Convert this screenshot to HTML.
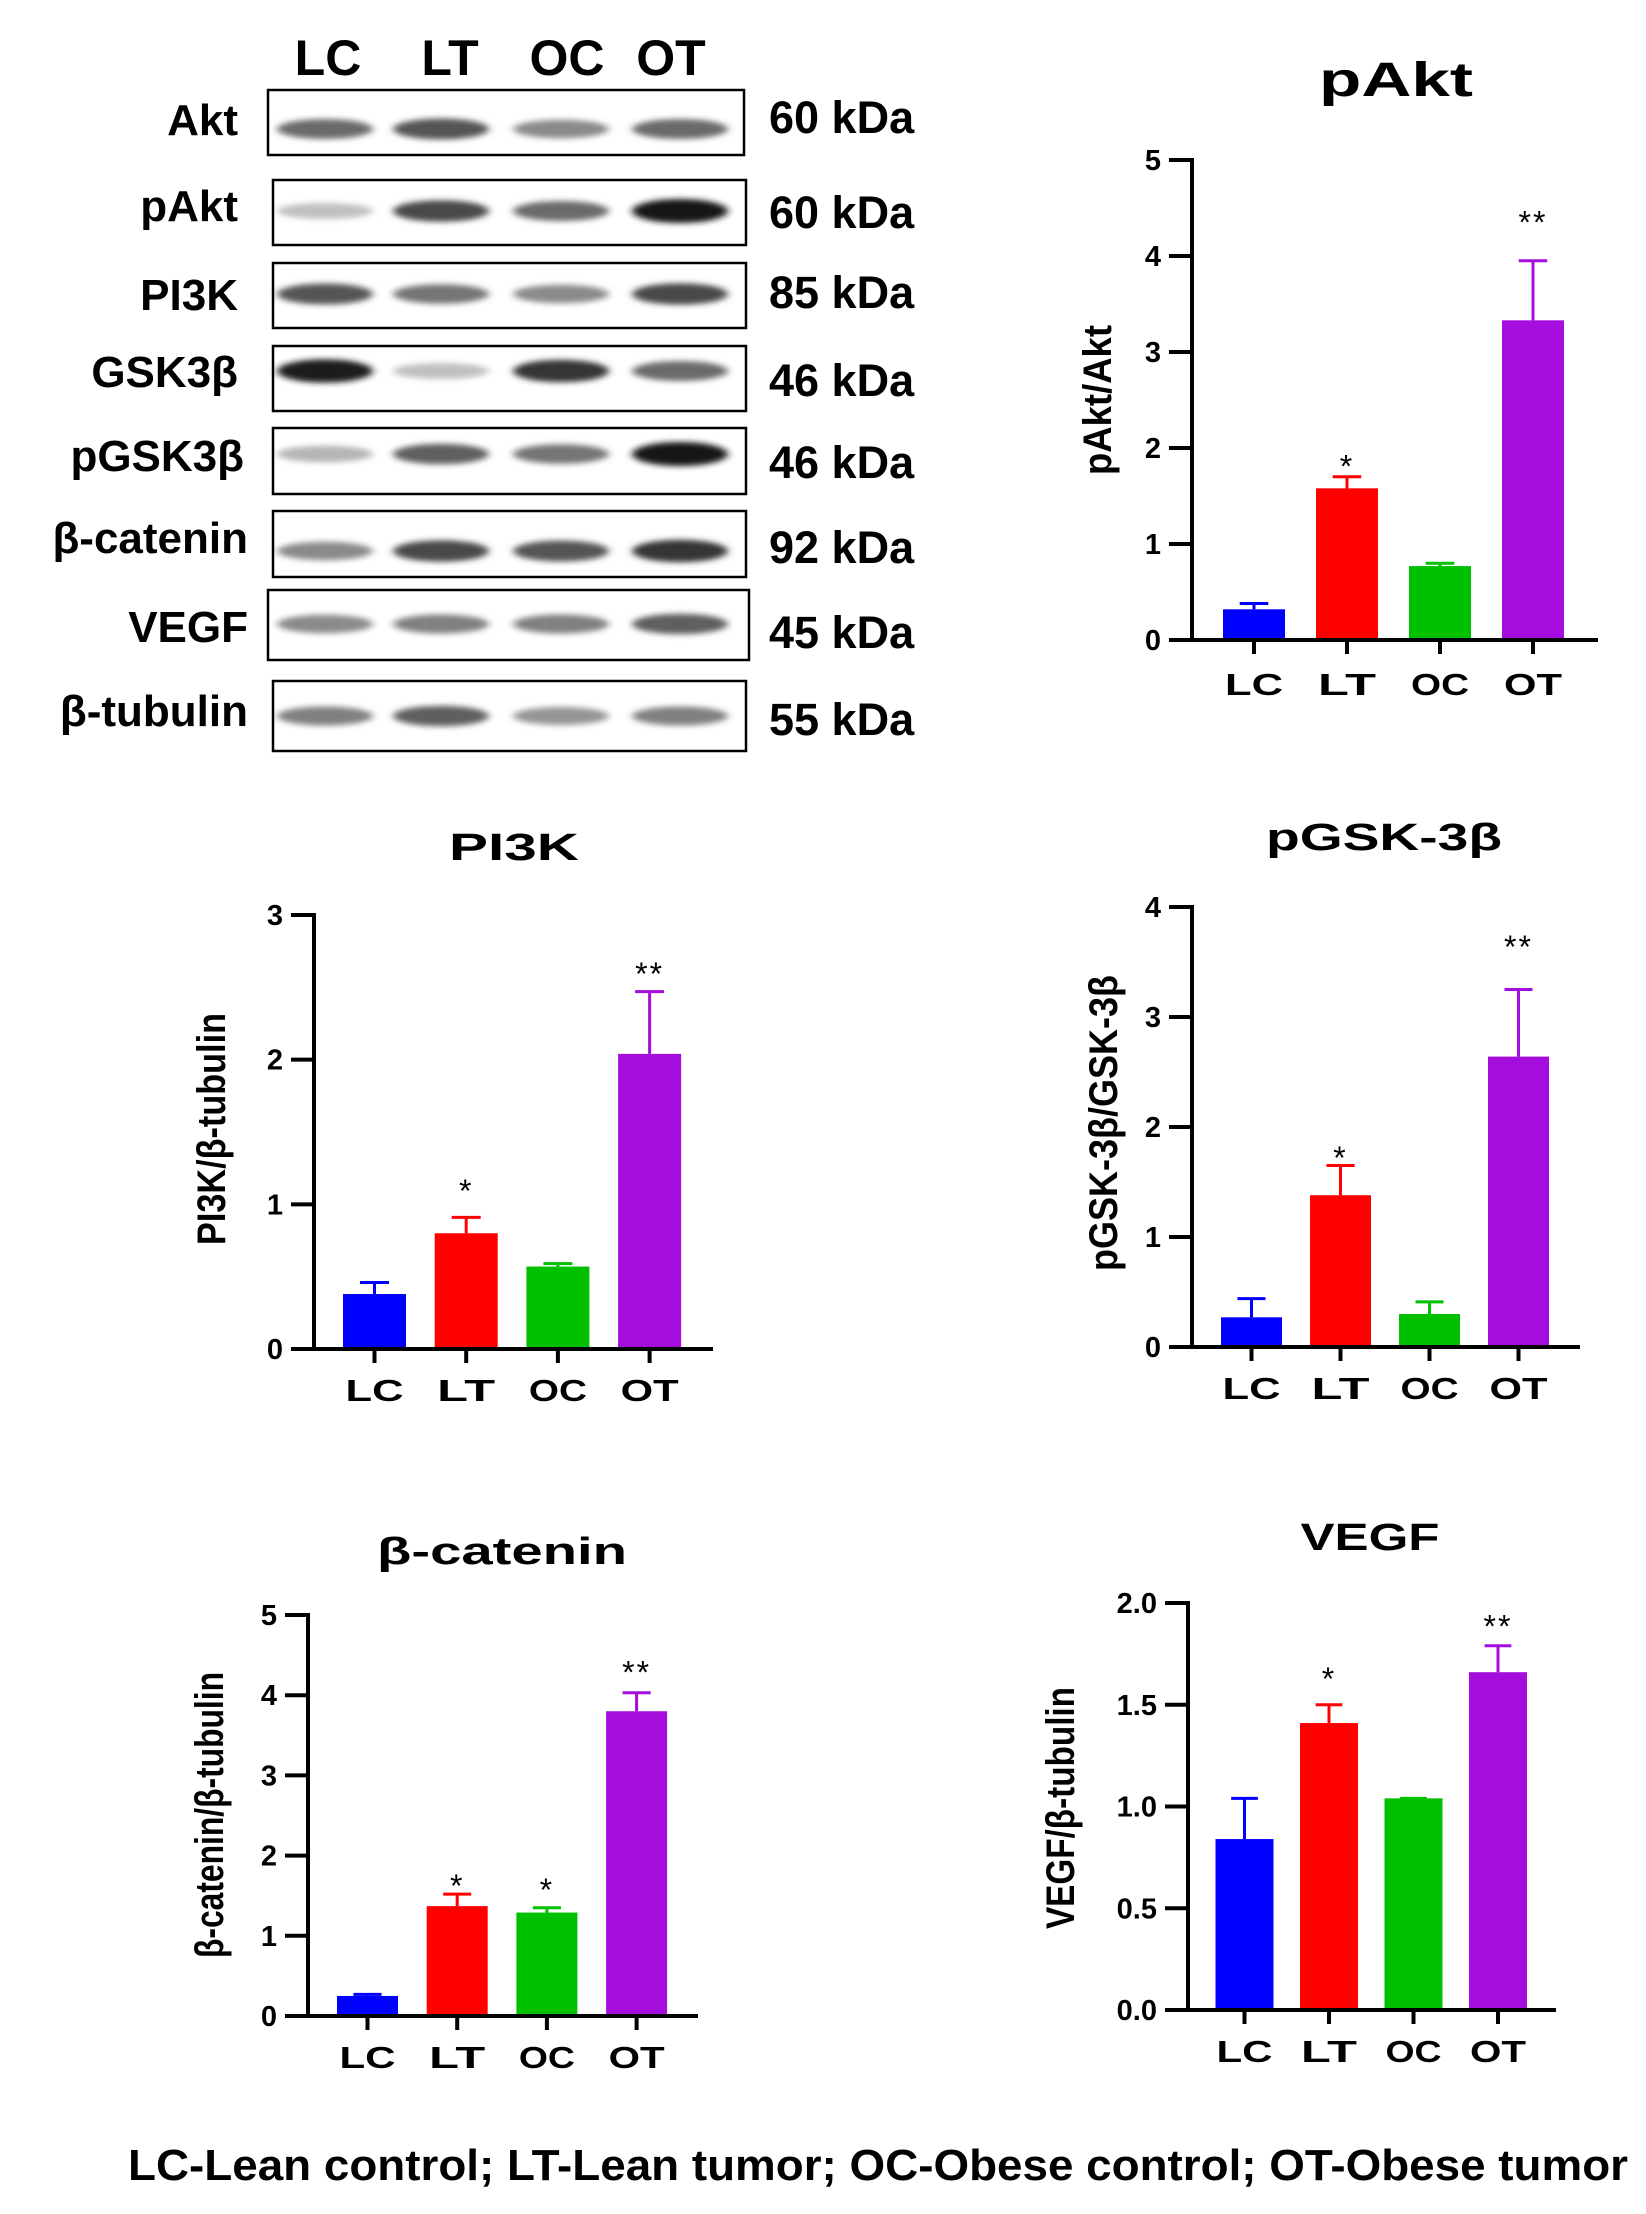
<!DOCTYPE html>
<html><head><meta charset="utf-8"><style>
html,body{margin:0;padding:0;background:#fff;}
svg{display:block;font-family:"Liberation Sans",Arial,sans-serif;}
</style></head><body>
<svg id="fig" width="1646" height="2214" viewBox="0 0 1646 2214" xmlns="http://www.w3.org/2000/svg">
<defs><filter id="blur" x="-20%" y="-100%" width="140%" height="300%"><feGaussianBlur stdDeviation="4 3"/></filter></defs>
<g id="blot"></g>
<g id="charts"></g>
<text x="128" y="2180" font-size="44" font-weight="bold" textLength="1500" lengthAdjust="spacingAndGlyphs">LC-Lean control; LT-Lean  tumor; OC-Obese control; OT-Obese tumor</text>
</svg>
<script>
const NS="http://www.w3.org/2000/svg";
const categories=["LC","LT","OC","OT"];
const barColors=["#0000ff","#ff0000","#00c000","#a50ddd"];

// Blot
const blotProteins=["Akt","pAkt","PI3K","GSK3β","pGSK3β","β-catenin","VEGF","β-tubulin"];
const blotWeights=["60 kDa","60 kDa","85 kDa","46 kDa","46 kDa","92 kDa","45 kDa","55 kDa"];
const bandAkt=[0.6,0.7,0.45,0.6];
const bandPAkt=[0.2,0.75,0.6,1];
const bandPI3K=[0.7,0.55,0.45,0.75];
const bandGSK=[0.95,0.2,0.85,0.6];
const bandPGSK=[0.25,0.65,0.55,1];
const bandBcat=[0.45,0.75,0.7,0.85];
const bandVEGF=[0.45,0.5,0.5,0.65];
const bandTub=[0.5,0.65,0.4,0.5];

// Charts data
const pAktMeans=[0.32,1.58,0.77,3.33];
const pAktErr=[0.38,1.70,0.80,3.95];
const pAktSig=["","*","","**"];
const pAktSigY=[0,1.88,0,4.42];
const pAktTicks=["0","1","2","3","4","5"];

const pi3kMeans=[0.38,0.80,0.57,2.04];
const pi3kErr=[0.46,0.91,0.59,2.47];
const pi3kSig=["","*","","**"];
const pi3kSigY=[0,1.14,0,2.64];
const pi3kTicks=["0","1","2","3"];

const pgskMeans=[0.27,1.38,0.30,2.64];
const pgskErr=[0.44,1.65,0.41,3.25];
const pgskSig=["","*","","**"];
const pgskSigY=[0,1.78,0,3.70];
const pgskTicks=["0","1","2","3","4"];

const bcatMeans=[0.25,1.37,1.29,3.80];
const bcatErr=[0.27,1.52,1.35,4.03];
const bcatSig=["","*","*","**"];
const bcatSigY=[0,1.71,1.66,4.37];
const bcatTicks=["0","1","2","3","4","5"];

const vegfMeans=[0.84,1.41,1.04,1.66];
const vegfErr=[1.04,1.50,1.04,1.79];
const vegfSig=["","*","","**"];
const vegfSigY=[0,1.66,0,1.92];
const vegfTicks=["0.0","0.5","1.0","1.5","2.0"];

function mk(tag,attrs,parent,text){const e=document.createElementNS(NS,tag);for(const k in attrs)e.setAttribute(k,attrs[k]);if(text!==undefined)e.textContent=text;parent.appendChild(e);return e;}

// ---- Blot ----
const blot=document.getElementById('blot');
const laneX=[325,441,561,680];
const headerX=[328,450,567,671];
categories.forEach((c,i)=>{
  const t=mk('text',{x:headerX[i],y:75,'font-size':50,'font-weight':'bold','text-anchor':'middle'},blot,c);
  
  
});
const boxes=[[268,90,744,155],[273,180,746,245],[273,263,746,328],[273,346,746,411],[273,428,746,494],[273,511,746,577],[268,590,749,660],[273,681,746,751]];
const bandY=[129,211,294,371,454,551,624,716];
const rowLabelBase=[135,221,310,387,471,553,642,726];
const rowLabelRight=[238,238,238,238,244,248,248,248];
const kdaBase=[133,228,308,396,478,563,648,735];
const bandSets=[bandAkt,bandPAkt,bandPI3K,bandGSK,bandPGSK,bandBcat,bandVEGF,bandTub];
blotProteins.forEach((p,r)=>{
  const g=mk('g',{},blot);
  
  
  const b=boxes[r];
  const lbl=mk('text',{x:rowLabelRight[r],y:rowLabelBase[r],'font-size':44,'font-weight':'bold','text-anchor':'end'},g,p);
  
  
  const bandsG=mk('g',{filter:'url(#blur)'},g);
  bandSets[r].forEach((v,i)=>{
    const gray=Math.round(235-v*215);
    const e=mk('ellipse',{cx:laneX[i],cy:bandY[r],rx:48,ry:7+v*5,fill:`rgb(${gray},${gray},${gray})`},bandsG);
    
    
  });
  const rect=mk('rect',{x:b[0],y:b[1],width:b[2]-b[0],height:b[3]-b[1],fill:'none',stroke:'#000','stroke-width':2.5},g);
  
  
  const kd=mk('text',{x:769,y:kdaBase[r],'font-size':45,'font-weight':'bold'},g,blotWeights[r]);
  
  
});

// ---- Bar charts ----
function drawChart(cfg,means,errs,sig,sigY,ticks){
  const root=document.getElementById('charts');
  const g=mk('g',{},root);
  
  
  const yScale=v=>cfg.y0-(v/cfg.yMax)*(cfg.y0-cfg.yTop);
  const barLeft=i=>cfg.bar0+i*cfg.step;
  const barCenter=i=>barLeft(i)+cfg.bw/2;
  const t=mk('text',{x:cfg.titleX,y:cfg.titleY,'font-size':cfg.titleFs,'font-weight':'bold','text-anchor':'middle',textLength:cfg.titleW,lengthAdjust:'spacingAndGlyphs'},g,cfg.title);
  
  
  const yl=mk('text',{x:0,y:0,'font-size':40,'font-weight':'bold','text-anchor':'middle','dominant-baseline':'central',transform:`translate(${cfg.ylX},${cfg.ylY}) rotate(-90)`,textLength:cfg.ylW,lengthAdjust:'spacingAndGlyphs'},g,cfg.ylabel);
  
  
  means.forEach((m,i)=>{
    const top=yScale(m);
    const r=mk('rect',{x:barLeft(i),y:top,width:cfg.bw,height:cfg.y0-top,fill:barColors[i]},g);
    
    
    const et=yScale(errs[i]);
    const cw=cfg.bw*0.23;
    const eb=mk('path',{d:`M${barCenter(i)} ${top} V${et} M${barCenter(i)-cw} ${et} H${barCenter(i)+cw}`,stroke:barColors[i],'stroke-width':3,fill:'none'},g);
    
    
    if(sig[i]){
      const s=mk('text',{x:barCenter(i),y:yScale(sigY[i])+18,'font-size':32,'text-anchor':'middle','letter-spacing':2},g,sig[i]);
      
      
    }
    const tk=mk('line',{x1:barCenter(i),x2:barCenter(i),y1:cfg.y0,y2:cfg.y0+14,stroke:'#000','stroke-width':4},g);
    
    
    const cl=mk('text',{x:barCenter(i),y:cfg.y0+cfg.catDy,'font-size':31,'font-weight':'bold','text-anchor':'middle',textLength:cfg.catW,lengthAdjust:'spacingAndGlyphs'},g,categories[i]);
    
    
  });
  const ya=mk('line',{x1:cfg.ax,x2:cfg.ax,y1:cfg.yTop-2,y2:cfg.y0+2,stroke:'#000','stroke-width':4},g);
  
  
  const xa=mk('line',{x1:cfg.ax-23,x2:cfg.xEnd,y1:cfg.y0,y2:cfg.y0,stroke:'#000','stroke-width':4},g);
  
  
  ticks.forEach((lab,k)=>{
    const v=parseFloat(lab);
    const y=yScale(v);
    const tl=mk('line',{x1:cfg.ax-23,x2:cfg.ax,y1:y,y2:y,stroke:'#000','stroke-width':4},g);
    
    
    const tt=mk('text',{x:cfg.ax-31,y:y+10,'font-size':29,'font-weight':'bold','text-anchor':'end'},g,lab);
    
    
  });
}

drawChart({name:'pakt-chart',title:'pAkt',titleX:1396,titleY:96,titleFs:48,titleW:154,ylabel:'pAkt/Akt',ylX:1098,ylY:400,ylW:150,
  ax:1192,xEnd:1598,y0:640,yTop:160,yMax:5,bar0:1223,bw:62,step:93,catW:58,catDy:55},pAktMeans,pAktErr,pAktSig,pAktSigY,pAktTicks);
drawChart({name:'pi3k-chart',title:'PI3K',titleX:514,titleY:860,titleFs:38,titleW:130,ylabel:'PI3K/β-tubulin',ylX:212,ylY:1129,ylW:232,
  ax:314,xEnd:713,y0:1349,yTop:915,yMax:3,bar0:343,bw:63,step:91.7,catW:58,catDy:52},pi3kMeans,pi3kErr,pi3kSig,pi3kSigY,pi3kTicks);
drawChart({name:'pgsk3b-chart',title:'pGSK-3β',titleX:1384,titleY:850,titleFs:38,titleW:236,ylabel:'pGSK-3β/GSK-3β',ylX:1104,ylY:1123,ylW:296,
  ax:1192,xEnd:1580,y0:1347,yTop:907,yMax:4,bar0:1221,bw:61,step:89,catW:58,catDy:52},pgskMeans,pgskErr,pgskSig,pgskSigY,pgskTicks);
drawChart({name:'beta-catenin-chart',title:'β-catenin',titleX:502,titleY:1564,titleFs:38,titleW:250,ylabel:'β-catenin/β-tubulin',ylX:210,ylY:1815,ylW:286,
  ax:308,xEnd:698,y0:2016,yTop:1615,yMax:5,bar0:337,bw:61,step:89.7,catW:56,catDy:52},bcatMeans,bcatErr,bcatSig,bcatSigY,bcatTicks);
drawChart({name:'vegf-chart',title:'VEGF',titleX:1370,titleY:1550,titleFs:38,titleW:139,ylabel:'VEGF/β-tubulin',ylX:1061,ylY:1808,ylW:242,
  ax:1188,xEnd:1556,y0:2010,yTop:1603,yMax:2,bar0:1215.5,bw:58,step:84.5,catW:56,catDy:52},vegfMeans,vegfErr,vegfSig,vegfSigY,vegfTicks);
</script>
</body></html>
